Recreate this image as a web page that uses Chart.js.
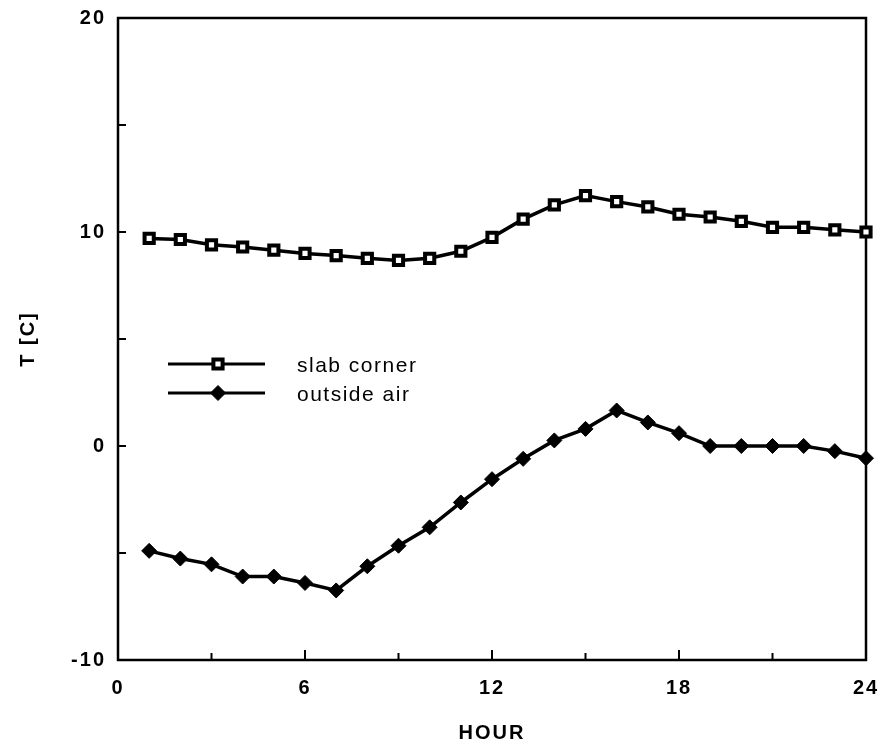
<!DOCTYPE html>
<html>
<head>
<meta charset="utf-8">
<script src="https://cdn.jsdelivr.net/npm/chart.js@4"></script>
<style>
  html, body { margin: 0; padding: 0; background: #fff; }
  #wrap { width: 880px; height: 745px; }
</style>
</head>
<body>
<div id="wrap"><canvas id="chart" width="880" height="745"></canvas></div>
<script>
// hourly temperatures
const hours = [1, 2, 3, 4, 5, 6, 7, 8, 9, 10, 11, 12, 13, 14, 15, 16, 17, 18, 19, 20, 21, 22, 23, 24];
const slabCorner = [9.7, 9.65, 9.4, 9.3, 9.15, 9.0, 8.9, 8.77, 8.67, 8.77, 9.1, 9.75, 10.6, 11.27, 11.7, 11.42, 11.17, 10.83, 10.7, 10.5, 10.22, 10.22, 10.1, 10.0];
const outsideAir = [-4.9, -5.26, -5.53, -6.1, -6.1, -6.4, -6.75, -5.62, -4.66, -3.8, -2.64, -1.55, -0.6, 0.26, 0.8, 1.66, 1.1, 0.6, 0.0, 0.0, 0.0, 0.0, -0.24, -0.57];

const xTicks = [0, 6, 12, 18, 24];
const xMinorTicks = [3, 9, 15, 21];
const yTicks = [-10, 0, 10, 20];
const yMinorTicks = [-5, 5, 15];

const seriesNames = ['slab corner', 'outside air'];

const toPoints = vals => vals.map((v, i) => ({ x: hours[i], y: v }));

const FONT = '"Liberation Sans", Arial, sans-serif';

// no auto padding for edge labels, so the plot box lands where the layout says
const noScalePadding = s => {
    s.paddingTop = 0;
    s.paddingBottom = 0;
    s.paddingLeft = 0;
    s.paddingRight = 0;
};

// wide-ish lettering like the scanned figure
const spacing = {
    id: 'spacing',
    beforeDraw(chart) {
        chart.ctx.letterSpacing = '2px';
    }
};

// frame + inward tick marks
const framePlugin = {
    id: 'frame',
    beforeDatasetsDraw(chart) {
        const { ctx, chartArea: a, scales } = chart;
        ctx.save();
        ctx.strokeStyle = '#000';
        ctx.lineWidth = 2.5;
        ctx.strokeRect(a.left, a.top, a.right - a.left, a.bottom - a.top);

        ctx.lineWidth = 2;
        ctx.beginPath();
        xTicks.concat(xMinorTicks).forEach(v => {
            if (v === 0 || v === 24) return;
            const px = scales.x.getPixelForValue(v);
            const len = xMinorTicks.includes(v) ? 7 : 10;
            ctx.moveTo(px, a.bottom);
            ctx.lineTo(px, a.bottom - len);
        });
        yTicks.concat(yMinorTicks).forEach(v => {
            if (v === -10 || v === 20) return;
            const py = scales.y.getPixelForValue(v);
            ctx.moveTo(a.left, py);
            ctx.lineTo(a.left + 8, py);
        });
        ctx.stroke();
        ctx.restore();
    }
};

// legend sitting inside the plot, left side
const innerLegend = {
    id: 'innerLegend',
    afterDraw(chart) {
        const { ctx } = chart;
        const rows = [364, 393];
        ctx.save();
        rows.forEach((y, i) => {
            const ds = chart.data.datasets[i];
            ctx.strokeStyle = '#000';
            ctx.lineWidth = 3;
            ctx.beginPath();
            ctx.moveTo(168, y);
            ctx.lineTo(265, y);
            ctx.stroke();
            ctx.fillStyle = ds.pointBackgroundColor;
            ctx.strokeStyle = ds.pointBorderColor;
            ctx.lineWidth = ds.pointBorderWidth;
            Chart.helpers.drawPoint(ctx, {
                pointStyle: ds.pointStyle,
                radius: ds.pointRadius,
                borderWidth: ds.pointBorderWidth
            }, 218, y);
            ctx.fillStyle = '#000';
            ctx.font = '21px ' + FONT;
            ctx.letterSpacing = '1.5px';
            ctx.textBaseline = 'middle';
            ctx.textAlign = 'left';
            ctx.fillText(seriesNames[i], 297, y + 2);
        });
        ctx.restore();
    }
};

const ctx = document.getElementById('chart').getContext('2d');
new Chart(ctx, {
    type: 'line',
    data: {
        datasets: [{
            label: seriesNames[0],
            data: toPoints(slabCorner),
            borderColor: '#000',
            borderWidth: 3.5,
            pointStyle: 'rect',
            pointRadius: 6.5,
            pointBorderWidth: 4,
            pointBackgroundColor: '#fff',
            pointBorderColor: '#000',
            clip: false
        }, {
            label: seriesNames[1],
            data: toPoints(outsideAir),
            borderColor: '#000',
            borderWidth: 3.5,
            pointStyle: 'rectRot',
            pointRadius: 7.5,
            pointBorderWidth: 1,
            pointBackgroundColor: '#000',
            pointBorderColor: '#000',
            clip: false
        }]
    },
    options: {
        responsive: false,
        animation: false,
        devicePixelRatio: 1,
        layout: { padding: { top: 18, right: 14, left: 0, bottom: 0 } },
        plugins: {
            legend: { display: false },
            tooltip: { enabled: false }
        },
        scales: {
            x: {
                type: 'linear',
                min: 0,
                max: 24,
                afterBuildTicks: s => { s.ticks = xTicks.map(v => ({ value: v })); },
                afterFit: s => { s.height = 85; noScalePadding(s); },
                grid: { display: false, drawTicks: false },
                border: { display: false },
                ticks: {
                    color: '#000',
                    padding: 16,
                    maxRotation: 0,
                    font: { family: FONT, size: 20, weight: 'bold' }
                },
                title: {
                    display: true,
                    text: 'HOUR',
                    color: '#000',
                    padding: { top: 0, bottom: 2 },
                    font: { family: FONT, size: 20, weight: 'bold', lineHeight: 1 }
                }
            },
            y: {
                type: 'linear',
                min: -10,
                max: 20,
                afterBuildTicks: s => { s.ticks = yTicks.map(v => ({ value: v })); },
                afterFit: s => { s.width = 118; noScalePadding(s); },
                grid: { display: false, drawTicks: false },
                border: { display: false },
                ticks: {
                    color: '#000',
                    padding: 12,
                    font: { family: FONT, size: 20, weight: 'bold' }
                },
                title: {
                    display: true,
                    text: 'T [C]',
                    color: '#000',
                    padding: { top: 18, bottom: 0 },
                    font: { family: FONT, size: 20, weight: 'bold', lineHeight: 1 }
                }
            }
        }
    },
    plugins: [spacing, framePlugin, innerLegend]
});
</script>
</body>
</html>
